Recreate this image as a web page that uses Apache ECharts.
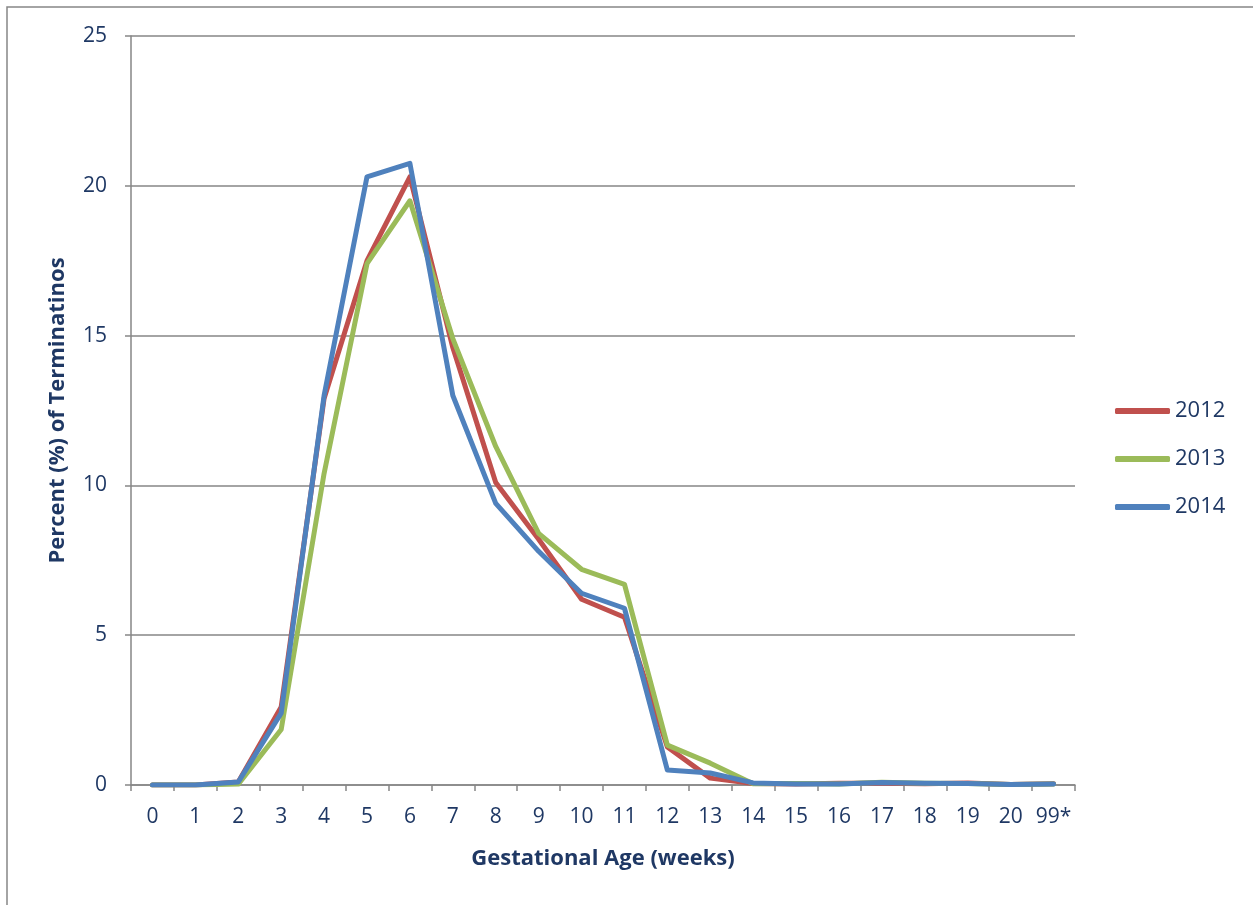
<!DOCTYPE html>
<html>
<head>
<meta charset="utf-8">
<script src="https://cdn.jsdelivr.net/npm/echarts@6/dist/echarts.min.js"></script>
<style>
  html, body { margin: 0; padding: 0; background: #fff; }
  #chart { width: 1253px; height: 905px; }
</style>
</head>
<body>
<div id="chart"></div>
<script>
// gestational age categories (weeks)
const weeks = ['0', '1', '2', '3', '4', '5', '6', '7', '8', '9', '10', '11', '12', '13', '14', '15', '16', '17', '18', '19', '20', '99*']
const y2012 = [0, 0, 0.1, 2.6, 12.9, 17.5, 20.3, 14.6, 10.1, 8.2, 6.2, 5.6, 1.27, 0.23, 0.05, 0.03, 0.06, 0.06, 0.04, 0.07, 0.02, 0.04]
const y2013 = [0, 0, 0.03, 1.85, 10.4, 17.4, 19.5, 14.9, 11.3, 8.4, 7.2, 6.7, 1.33, 0.73, 0.04, 0.05, 0.03, 0.09, 0.06, 0.05, 0.02, 0.03]
const y2014 = [0, 0, 0.1, 2.4, 13.0, 20.3, 20.75, 13.0, 9.4, 7.8, 6.4, 5.9, 0.5, 0.4, 0.07, 0.03, 0.03, 0.08, 0.06, 0.05, 0.02, 0.03]
const yTicks = [0, 5, 10, 15, 20, 25]

const gray = '#868686'
const navy = '#1F3864'
const font = 'Open Sans'

const chart = echarts.init(document.getElementById('chart'))

const makeSeries = (name, data, color) => ({
  name,
  type: 'line',
  data,
  symbol: 'none',
  smooth: false,
  lineStyle: { color, width: 5, cap: 'round', join: 'round' },
  itemStyle: { color }
})

chart.setOption({
  animation: false,
  backgroundColor: '#fff',
  graphic: [{
    type: 'rect',
    shape: { x: 7, y: 7, width: 1300, height: 1000 },
    style: { fill: 'none', stroke: gray, lineWidth: 1.5 },
    silent: true
  }],
  grid: { left: 131, right: 178, top: 36, bottom: 120 },
  legend: {
    orient: 'vertical',
    left: 1110,
    top: 395,
    itemWidth: 55,
    itemHeight: 6,
    itemGap: 26,
    icon: 'roundRect',
    textStyle: { color: navy, fontSize: 22, lineHeight: 22, fontFamily: font },
    data: ['2012', '2013', '2014']
  },
  xAxis: {
    type: 'category',
    data: weeks,
    boundaryGap: true,
    name: 'Gestational Age (weeks)',
    nameLocation: 'middle',
    nameGap: 63,
    nameTextStyle: { color: navy, fontSize: 22, fontWeight: 'bold', fontFamily: font },
    axisLine: { lineStyle: { color: gray, width: 1.5 } },
    axisTick: { show: true, interval: 0, length: 6, lineStyle: { color: gray, width: 1.5 } },
    axisLabel: { color: navy, fontSize: 21, fontFamily: font, margin: 22, interval: 0 },
    splitLine: { show: false }
  },
  yAxis: {
    type: 'value',
    min: yTicks[0],
    max: yTicks[yTicks.length - 1],
    interval: 5,
    name: 'Percent (%) of Terminatinos',
    nameLocation: 'middle',
    nameGap: 62,
    nameTextStyle: { color: navy, fontSize: 22, fontWeight: 'bold', fontFamily: font },
    axisLine: { show: true, lineStyle: { color: gray, width: 1.5 } },
    axisTick: { show: true, length: 6, lineStyle: { color: gray, width: 1.5 } },
    axisLabel: { color: navy, fontSize: 21, fontFamily: font, margin: 24 },
    splitLine: { show: true, lineStyle: { color: gray, width: 1.5 } }
  },
  series: [
    makeSeries('2012', y2012, '#C0504D'),
    makeSeries('2013', y2013, '#9BBB59'),
    makeSeries('2014', y2014, '#4F81BD')
  ]
})
</script>
</body>
</html>
